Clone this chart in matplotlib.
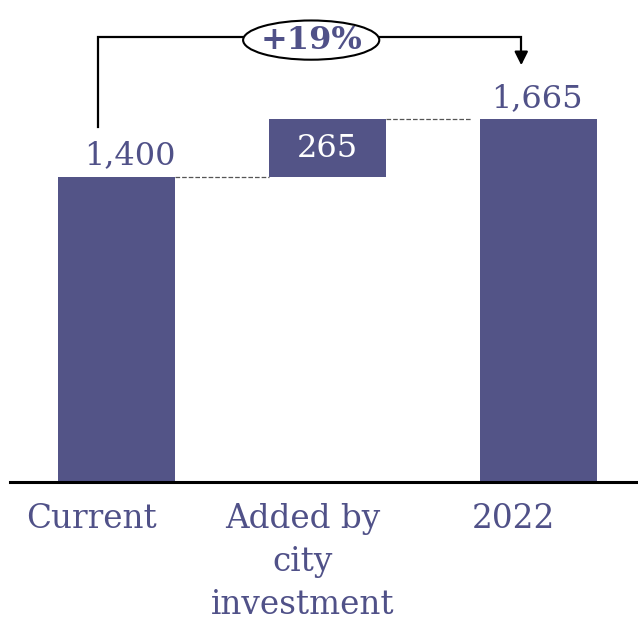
import matplotlib.pyplot as plt
from matplotlib.patches import Ellipse

# 数据
categories = ['Current', 'Added by\ncity\ninvestment', '2022']
current = 1400
added = 265
total = 1665
change_label = '+19%'

bar_color = '#535487'
text_color = '#505188'

plt.rcParams['font.family'] = ['DejaVu Serif']

fig = plt.figure(figsize=(6.38, 6.24), dpi=100)
ax = fig.add_axes([0, 0.2276, 1, 0.7724])
ax.set_xlim(-0.552, 2.47)
ax.set_ylim(0, 2212)
ax.axis('off')

w = 0.555
bottoms = [0, current, 0]
heights = [current, added, total]
ax.bar(range(3), heights, bottom=bottoms, width=w, color=bar_color)

# 基线
ax.axhline(0, xmin=0.016, xmax=1, color='black', lw=2.2, clip_on=False)

# 虚线连接
ax.plot([0 + w / 2, 1 - w / 2], [current, current], ls='--', color='#555555', lw=0.9)
ax.plot([1 + w / 2, 2 - w / 2 - 0.045], [total, total], ls='--', color='#555555', lw=0.9)

# 数值标签
ax.text(0.065, current + 25, f'{current:,}', ha='center', va='bottom', fontsize=23, color=text_color)
ax.text(1, current + added / 2, f'{added:,}', ha='center', va='center', fontsize=23, color='white')
ax.text(1.99, total + 25, f'{total:,}', ha='center', va='bottom', fontsize=23, color=text_color)

# 分类标签
for i, c in enumerate(categories):
    ax.text(i - 0.12, -95, c, ha='center', va='top', fontsize=23.5, color=text_color,
            linespacing=1.45, clip_on=False)

# 增长括号
x0, x1, ytop = -0.088, 1.917, 2042
ax.plot([x0, x0, x1, x1], [1629, ytop, ytop, 1960], color='black', lw=1.6, solid_joinstyle='miter')
ax.annotate('', xy=(x1, 1900), xytext=(x1, 1965),
            arrowprops=dict(arrowstyle='-|>', color='black', lw=1.6, mutation_scale=20))
ax.add_patch(Ellipse((0.922, 2028), 0.645, 180, facecolor='white', edgecolor='black', lw=1.5, zorder=3))
ax.text(0.922, 2028, change_label, ha='center', va='center', fontsize=23, fontweight='bold',
        color=text_color, zorder=4)

fig.savefig('out.png', dpi=100)
